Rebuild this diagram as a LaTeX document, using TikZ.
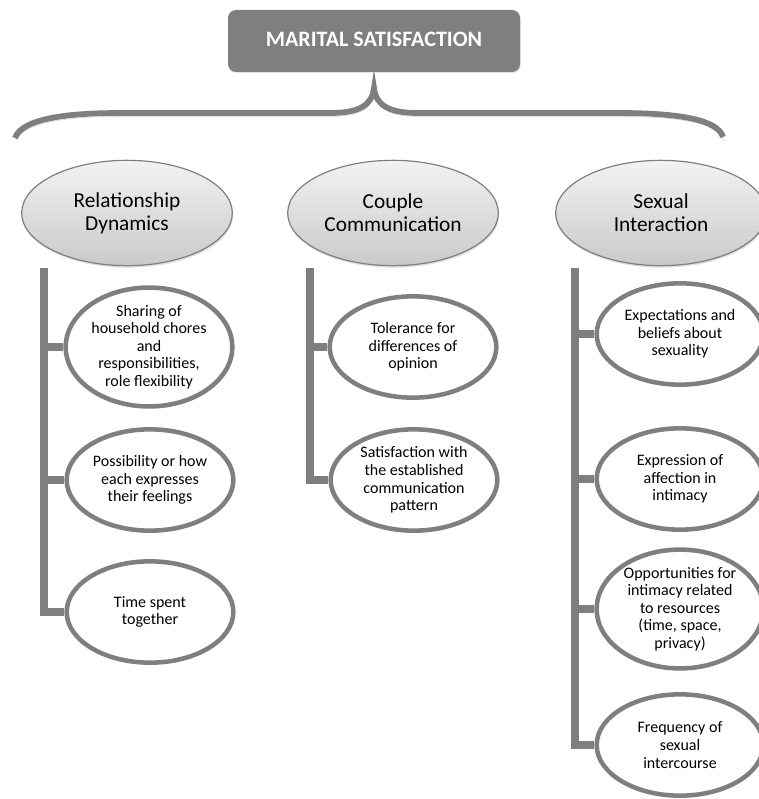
\documentclass[tikz,border=0pt]{standalone}
\usepackage{fontspec}
\setmainfont{Carlito}
\usetikzlibrary{shapes.geometric,shadows}
\definecolor{bargray}{HTML}{7F7F7F}
\begin{document}
\begin{tikzpicture}[x=0.75pt,y=-0.75pt,
    titlebox/.style={rectangle,rounded corners=6pt,fill=bargray,text=white,
      font=\fontsize{16.5}{18}\selectfont\bfseries,minimum width=219pt,minimum height=46.5pt,
      drop shadow={opacity=0.2,shadow xshift=0.6pt,shadow yshift=-0.9pt}},
    maincat/.style={ellipse,draw=bargray,line width=0.9pt,top color=gray!10,bottom color=gray!42,
      align=center,font=\fontsize{16}{17.5}\selectfont,minimum width=158pt,minimum height=79pt,
      inner sep=0pt,drop shadow={opacity=0.25,shadow xshift=0.6pt,shadow yshift=-1.5pt}},
    subcat/.style={ellipse,draw=bargray,line width=3.4pt,fill=white,align=center,
      font=\fontsize{12}{13.2}\selectfont,minimum width=125pt,minimum height=76pt,inner sep=0pt,
      drop shadow={opacity=0.12,shadow xshift=0.5pt,shadow yshift=-1pt}},
    bar/.style={draw=bargray,line width=6pt},
    bracket/.style={draw=bargray,line width=4.3pt,
      preaction={draw=gray!35,transform canvas={shift={(0.6pt,-2.6pt)}}}}]
  \useasboundingbox (0,0) rectangle (758,799);

  \node[titlebox] (title) at (374,41) {\raisebox{3pt}{MARITAL SATISFACTION}};
  \draw[bracket] (15,138) .. controls (22,118) and (70,113) .. (120,113) -- (330,113)
    .. controls (358,113) and (372,106) .. (374,88)
    .. controls (376,106) and (390,113) .. (418,113) -- (620,113)
    .. controls (680,113) and (718,120) .. (723,137);

  \node[maincat] (rd) at (127,213) {Relationship\\Dynamics};
  \node[maincat] (cc) at (393,213) {Couple\\Communication};
  \node[maincat] (si) at (661,213) {Sexual\\Interaction};

  \node[subcat] (rd1) at (149,347) {Sharing of\\household chores\\and\\responsibilities,\\role flexibility};
  \node[subcat] (rd2) at (150,480) {Possibility or how\\each expresses\\their feelings};
  \node[subcat] (rd3) at (150,612) {Time spent\\together};

  \node[subcat] (cc1) at (413,347) {Tolerance for\\differences of\\opinion};
  \node[subcat] (cc2) at (414,480) {Satisfaction with\\the established\\communication\\pattern};

  \node[subcat] (si1) at (680,334) {Expectations and\\beliefs about\\sexuality};
  \node[subcat] (si2) at (680,479) {Expression of\\affection in\\intimacy};
  \node[subcat] (si3) at (680,609) {Opportunities for\\intimacy related\\to resources\\(time, space,\\privacy)};
  \node[subcat] (si4) at (680,745) {Frequency of\\sexual\\intercourse};

  \coordinate (rdbar) at (44,268);
  \coordinate (ccbar) at (310,268);
  \coordinate (sibar) at (575,268);

  \draw[bar] (rdbar) |- (rd3.west);
  \draw[bar] (rdbar |- rd1.west) -- (rd1.west);
  \draw[bar] (rdbar |- rd2.west) -- (rd2.west);

  \draw[bar] (ccbar) |- (cc2.west);
  \draw[bar] (ccbar |- cc1.west) -- (cc1.west);

  \draw[bar] (sibar) |- (si4.west);
  \draw[bar] (sibar |- si1.west) -- (si1.west);
  \draw[bar] (sibar |- si2.west) -- (si2.west);
  \draw[bar] (sibar |- si3.west) -- (si3.west);
\end{tikzpicture}
\end{document}
